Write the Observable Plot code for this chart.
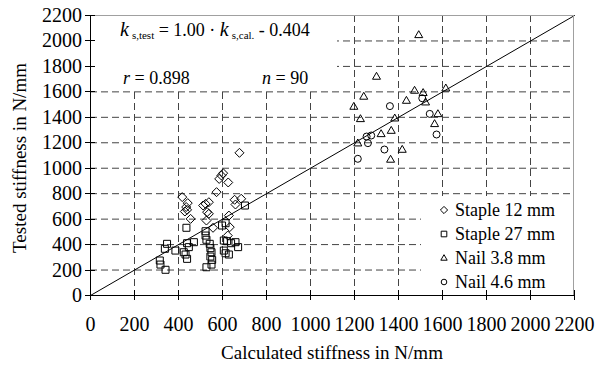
<!DOCTYPE html>
<html><head><meta charset="utf-8">
<script src="https://cdn.jsdelivr.net/npm/d3@7"></script>
<script src="https://cdn.jsdelivr.net/npm/@observablehq/plot@0.6"></script>
<style>body{margin:0;background:#fff;} svg{display:block;}</style>
</head><body><div id="chart"></div>
<script>
// ---- data ----
const seriesNames = ["Staple 12 mm", "Staple 27 mm", "Nail 3.8 mm", "Nail 4.6 mm"];
const staple12X = [677,603,595,585,626,573,417,442,435,429,439,455,512,523,538,530,538,527,655,685,659,629,633,624,557];
const staple12Y = [1121,961,943,916,888,812,773,726,695,660,673,602,707,720,733,655,642,589,752,760,715,628,537,471,532];
const staple27X = [436,702,348,338,386,315,318,341,439,447,424,432,439,470,523,523,527,545,550,545,553,527,550,598,614,606,621,639,659,671,614,629,606,542];
const staple27Y = [532,707,406,367,353,275,243,202,411,380,340,322,288,419,505,471,438,372,340,306,280,222,243,550,568,432,427,411,419,380,332,322,353,406];
const nail38X = [1492,1300,1242,1197,1227,1473,1512,1436,1523,1615,1383,1579,1564,1215,1321,1367,1417,1364];
const nail38Y = [2048,1721,1564,1485,1388,1611,1593,1532,1519,1629,1393,1427,1349,1197,1270,1296,1147,1069];
const nail46X = [1361,1508,1542,1573,1255,1276,1261,1336,1215];
const nail46Y = [1488,1550,1427,1265,1249,1257,1197,1147,1074];
const xTicks = [0,200,400,600,800,1000,1200,1400,1600,1800,2000,2200];
const yTicks = [0,200,400,600,800,1000,1200,1400,1600,1800,2000,2200];
const gridValues = [200,400,600,800,1000,1200,1400,1600,1800,2000];
const fitSlope = 1.00, fitIntercept = -0.404;
const fitRange = [0, 2200];
const xTitle = "Calculated stiffness in N/mm";
const yTitle = "Tested stiffness in N/mm";
const eqText = {k: "k", sub1: "s,test", mid: " = 1.00 · ", sub2: "s,cal.", tail: " - 0.404"};
const statText = {r: "r", rVal: " = 0.898", n: "n", nVal: " = 90"};

// ---- symbols ----
const rad = s => Math.sqrt(s / Math.PI);
const symDiamond = {draw(c, s) {const r = rad(s); c.moveTo(0,-r); c.lineTo(r,0); c.lineTo(0,r); c.lineTo(-r,0); c.closePath();}};
const symSquare = {draw(c, s) {const r = rad(s); c.rect(-r,-r,2*r,2*r);}};
const symTriangle = {draw(c, s) {const r = rad(s); const h = r*1.732; c.moveTo(0,-h*0.6); c.lineTo(r,h*0.4); c.lineTo(-r,h*0.4); c.closePath();}};
const symCircle = {draw(c, s) {const r = rad(s); c.moveTo(r,0); c.arc(0,0,r,0,2*Math.PI);}};
const symbols = [symDiamond, symSquare, symTriangle, symCircle];
const symR = [4.5, 3.5, 4, 3.5];

const toRows = (xs, ys) => xs.map((x, i) => ({x, y: ys[i]}));
const series = [toRows(staple12X, staple12Y), toRows(staple27X, staple27Y), toRows(nail38X, nail38Y), toRows(nail46X, nail46Y)];
const fitRows = fitRange.map(x => ({x, y: Math.max(0, fitSlope * x + fitIntercept)}));

const FONT = "'Liberation Serif','Times New Roman',serif";
const TICK_FS = 20, TITLE_FS = 19, LEG_FS = 18, ANN_FS = 18;

function dimsOf(d) {
  return {L: d.marginLeft, T: d.marginTop, R: d.width - d.marginRight, B: d.height - d.marginBottom};
}

// white boxes behind annotation and legend
function boxesMark(index, scales, values, dims) {
  const {L, T, R, B} = dimsOf(dims);
  const g = d3.create("svg:g");
  g.append("rect").attr("x", L + 1).attr("y", T + 1).attr("width", 246).attr("height", 74).attr("fill", "white");
  g.append("rect").attr("x", 421).attr("y", 196).attr("width", R - 1 - 421).attr("height", B - 196).attr("fill", "white");
  return g.node();
}

function axesMark(index, scales, values, dims) {
  const {L, T, R, B} = dimsOf(dims);
  const g = d3.create("svg:g").attr("font-family", FONT);
  g.append("line").attr("x1", L).attr("x2", R).attr("y1", T + 0.5).attr("y2", T + 0.5).attr("stroke", "#a0a0a0");
  g.append("line").attr("x1", R - 0.5).attr("x2", R - 0.5).attr("y1", T).attr("y2", B).attr("stroke", "#a0a0a0");
  g.append("line").attr("x1", L + 0.5).attr("x2", L + 0.5).attr("y1", T).attr("y2", B).attr("stroke", "black");
  g.append("line").attr("x1", L).attr("x2", R).attr("y1", B + 0.5).attr("y2", B + 0.5).attr("stroke", "black");
  for (const v of yTicks) {
    const yy = Math.round(scales.y(v)) + 0.5;
    g.append("line").attr("x1", L - 5).attr("x2", L + 5).attr("y1", yy).attr("y2", yy).attr("stroke", "black");
    g.append("text").attr("x", L - 8).attr("y", yy + 6.5).attr("text-anchor", "end").attr("font-size", TICK_FS).attr("fill", "black").text(String(v));
  }
  for (const v of xTicks) {
    const xx = Math.round(scales.x(v)) + 0.5;
    g.append("line").attr("x1", xx).attr("x2", xx).attr("y1", B - 5).attr("y2", B + 5).attr("stroke", "black");
    g.append("text").attr("x", xx).attr("y", B + 36).attr("text-anchor", "middle").attr("font-size", TICK_FS).attr("fill", "black").text(String(v));
  }
  g.append("text").attr("x", (L + R) / 2).attr("y", B + 64).attr("text-anchor", "middle").attr("font-size", TITLE_FS).attr("fill", "black").text(xTitle);
  g.append("text").attr("transform", `translate(26,${(T + B) / 2 + 3}) rotate(-90)`).attr("text-anchor", "middle").attr("font-size", TITLE_FS).attr("fill", "black").text(yTitle);
  return g.node();
}

function annotationMark(index, scales, values, dims) {
  const g = d3.create("svg:g").attr("font-family", FONT).attr("fill", "black").attr("text-anchor", "start");
  const t1 = g.append("text").attr("x", 120).attr("y", 36).attr("font-size", ANN_FS);
  t1.append("tspan").attr("font-style", "italic").attr("font-size", ANN_FS + 2).text(eqText.k);
  t1.append("tspan").attr("font-size", 11).attr("dx", 3).attr("dy", 3).text(eqText.sub1);
  t1.append("tspan").attr("dy", -3).text(eqText.mid);
  t1.append("tspan").attr("font-style", "italic").attr("font-size", ANN_FS + 2).text(eqText.k);
  t1.append("tspan").attr("font-size", 11).attr("dx", 3).attr("dy", 3).text(eqText.sub2);
  t1.append("tspan").attr("dy", -3).text(eqText.tail);
  const t2 = g.append("text").attr("x", 123).attr("y", 84).attr("font-size", ANN_FS);
  t2.append("tspan").attr("font-style", "italic").text(statText.r);
  t2.append("tspan").text(statText.rVal);
  const t3 = g.append("text").attr("x", 262).attr("y", 84).attr("font-size", ANN_FS);
  t3.append("tspan").attr("font-style", "italic").text(statText.n);
  t3.append("tspan").text(statText.nVal);
  return g.node();
}

function legendMark(index, scales, values, dims) {
  const g = d3.create("svg:g").attr("font-family", FONT).attr("text-anchor", "start");
  seriesNames.forEach((name, i) => {
    const cy = 210 + i * 24;
    const sz = Math.PI * (symR[i] * 0.8) ** 2;
    g.append("path").attr("transform", `translate(444,${cy})`).attr("d", d3.symbol(symbols[i], sz)())
      .attr("fill", "none").attr("stroke", "black").attr("stroke-width", 1);
    g.append("text").attr("x", 455).attr("y", cy + 6).attr("font-size", LEG_FS).attr("fill", "black").text(name);
  });
  return g.node();
}

const chart = Plot.plot({
  width: 602, height: 365,
  marginLeft: 90, marginRight: 28, marginTop: 15, marginBottom: 70,
  x: {domain: [0, 2200], axis: null},
  y: {domain: [0, 2200], axis: null},
  style: {fontFamily: FONT, fontSize: "17px", color: "black", background: "white", overflow: "visible"},
  marks: [
    Plot.ruleX(gridValues, {stroke: "#444", strokeDasharray: "7,4", strokeWidth: 1}),
    Plot.ruleY(gridValues, {stroke: "#444", strokeDasharray: "7,4", strokeWidth: 1}),
    boxesMark,
    Plot.line(fitRows, {x: "x", y: "y", stroke: "black", strokeWidth: 1}),
    ...series.map((rows, i) => Plot.dot(rows, {x: "x", y: "y", symbol: symbols[i], r: symR[i], stroke: "black", fill: "none", strokeWidth: 1})),
    axesMark,
    annotationMark,
    legendMark
  ]
});
document.getElementById("chart").appendChild(chart);
</script>
</body></html>
